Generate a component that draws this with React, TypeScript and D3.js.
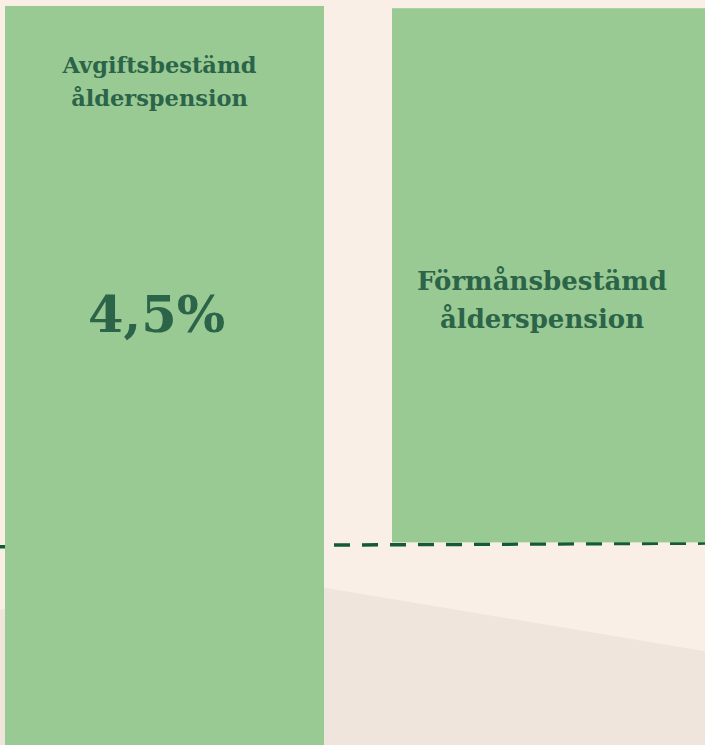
import React from "react";
import * as d3 from "d3";

const W = 705;
const H = 745;

// Categories (two pension types)
const categories = ["Avgiftsbestämd ålderspension", "Förmånsbestämd ålderspension"];
const labelLines = [
  ["Avgiftsbestämd", "ålderspension"],
  ["Förmånsbestämd", "ålderspension"],
];
// Bar extents in data units (0 = bottom of frame, 100 = top)
const barLow = [0, 27.2];
const barHigh = [99.2, 98.9];
const valueLabels = ["4,5%", ""];

// Dashed threshold line (data units at left and right edge)
const thresholdX = [0, 100];
const thresholdY = [26.6, 27.1];

// Ground shape (decorative background area)
const groundX = [0, 46, 100];
const groundY = [18.2, 21.1, 12.6];

const COLORS = {
  bg: "#F9EFE6",
  ground: "#EFE5DC",
  bar: "#99CA93",
  text: "#2B6449",
  dash: "#145A33",
};

export default function App() {
  const x = d3.scaleBand<string>().domain(categories).range([5, 711]).paddingInner(0.1757).paddingOuter(0);
  const y = d3.scaleLinear().domain([0, 100]).range([H, 0]);
  const xp = d3.scaleLinear().domain([0, 100]).range([0, W]);

  const groundArea = d3
    .area<number>()
    .x((_, i) => xp(groundX[i]))
    .y0(H)
    .y1((_, i) => y(groundY[i]));

  const threshLine = d3
    .line<number>()
    .x((_, i) => xp(thresholdX[i]))
    .y((_, i) => y(thresholdY[i]));

  const fontFamily = "'DejaVu Serif', serif";
  const leftCx = (x(categories[0]) as number) + x.bandwidth() / 2;

  return (
    <div style={{ position: "fixed", left: 0, top: 0, width: W, height: H }}>
      <svg width={W} height={H} style={{ display: "block" }}>
        <rect x={0} y={0} width={W} height={H} fill={COLORS.bg} />
        <path d={groundArea(groundX) || ""} fill={COLORS.ground} />
        <path
          d={threshLine(thresholdX) || ""}
          fill="none"
          stroke={COLORS.dash}
          strokeWidth={3.5}
          strokeDasharray="16 12"
          strokeDashoffset={2}
        />
        {categories.map((c, i) => {
          const bx = x(c) as number;
          const bw = x.bandwidth();
          const top = y(barHigh[i]);
          const bottom = y(barLow[i]);
          return <rect key={c} x={bx} y={top} width={bw} height={bottom - top} fill={COLORS.bar} />;
        })}
        <g fill={COLORS.text} fontFamily={fontFamily} fontWeight="bold" textAnchor="middle">
          <text x={leftCx - 5} y={73} fontSize={22.5}>
            {labelLines[0][0]}
          </text>
          <text x={leftCx - 5} y={106} fontSize={22.5}>
            {labelLines[0][1]}
          </text>
          <text x={leftCx - 8} y={332} fontSize={51}>
            {valueLabels[0]}
          </text>
          <text x={542} y={290} fontSize={26}>
            {labelLines[1][0]}
          </text>
          <text x={542} y={328} fontSize={26}>
            {labelLines[1][1]}
          </text>
        </g>
      </svg>
    </div>
  );
}
